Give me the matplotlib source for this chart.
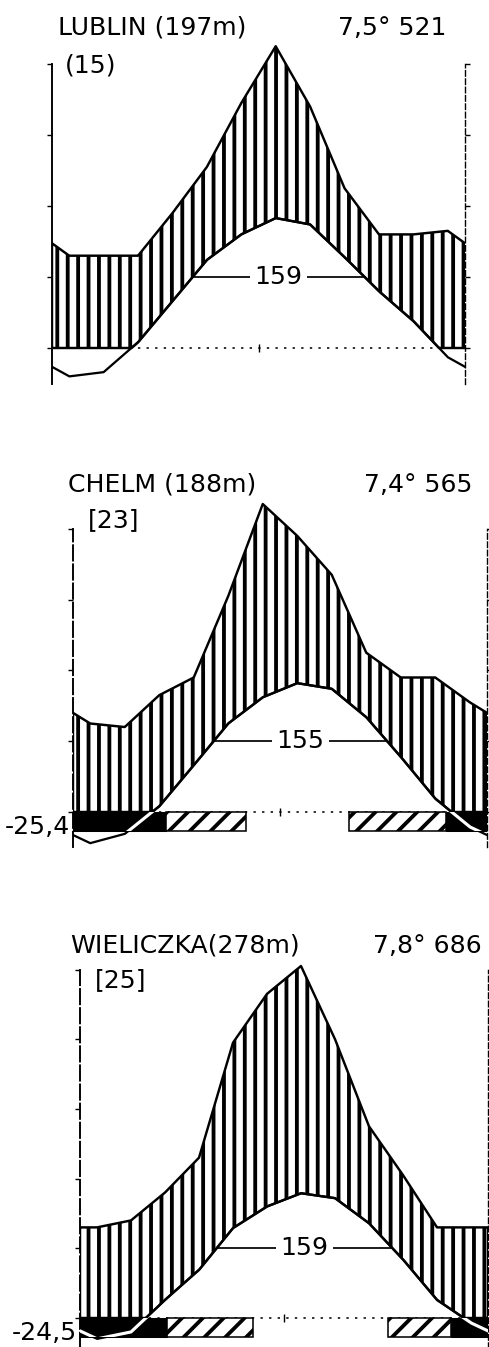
import numpy as np
import matplotlib
matplotlib.use("Agg")
import matplotlib.pyplot as plt
from matplotlib.patches import Rectangle

# ---------------- data ----------------
month_pos = np.arange(12) + 0.5

lub_name = "LUBLIN (197m)"
lub_years = "(15)"
lub_summary = "7,5° 521"
lub_temp = [-4.0, -3.4, 0.8, 6.6, 12.4, 16.0, 18.3, 17.4, 12.8, 8.0, 3.8, -1.3]
lub_prec = [26, 26, 26, 38, 51, 69, 85, 68, 45, 32, 32, 33]
lub_days = "159"
lub_absmin = None
lub_cold = []
lub_frost = []

che_name = "CHELM (188m)"
che_years = "[23]"
che_summary = "7,4° 565"
che_temp = [-4.4, -3.1, 0.8, 6.6, 12.5, 16.2, 18.2, 17.4, 13.4, 7.8, 1.9, -2.1]
che_prec = [25, 24, 33, 38, 61, 87, 78, 67, 45, 38, 38, 31]
che_days = "155"
che_absmin = "-25,4"
che_cold = [(0.0, 2.7), (10.8, 12.0)]
che_frost = [(2.7, 5.0), (8.0, 10.8)]

wie_name = "WIELICZKA(278m)"
wie_years = "[25]"
wie_summary = "7,8° 686"
wie_temp = [-3.0, -2.0, 2.6, 6.9, 12.9, 16.0, 17.9, 17.2, 13.6, 8.4, 2.6, -0.7]
wie_prec = [26, 28, 36, 46, 79, 93, 101, 80, 55, 41, 26, 26]
wie_days = "159"
wie_absmin = "-24,5"
wie_cold = [(0.0, 2.55), (10.9, 12.0)]
wie_frost = [(2.55, 5.1), (9.05, 10.9)]

# ---------------- figure ----------------
W, H, DPI = 489, 1347, 125
plt.rcParams["hatch.linewidth"] = 2.2
plt.rcParams["font.family"] = ["DejaVu Sans"]
fig = plt.figure(figsize=(W / DPI, H / DPI), dpi=DPI)
fig.patch.set_facecolor("white")

TITLE_SIZE = 14.5


def px_text(x, y, s, ha="left", size=TITLE_SIZE):
    fig.text(x / W, 1 - y / H, s, ha=ha, va="baseline", fontsize=size, color="black")


def cyc(vals):
    vals = np.asarray(vals, float)
    edge = (vals[0] + vals[-1]) / 2
    xs = np.concatenate([[0], month_pos, [12]])
    ys = np.concatenate([[edge], vals, [edge]])
    return xs, ys


def panel(geom, temp, prec, days, absmin, cold, frost, top_tick, left_style):
    x0, x1, y0, s, ymin, ymax = geom
    bottom_px = y0 - ymin * s
    top_px = y0 - ymax * s
    ax = fig.add_axes([x0 / W, 1 - bottom_px / H, (x1 - x0) / W, (bottom_px - top_px) / H])
    ax.set_xlim(0, 12)
    ax.set_ylim(ymin, ymax)
    ax.patch.set_visible(False)

    xd = np.linspace(0, 12, 2401)
    tx, ty = cyc(temp)
    px_, py_ = cyc(prec)
    T2 = 2 * np.interp(xd, tx, ty)
    P = np.interp(xd, px_, py_)

    # dotted zero line
    ax.plot([0, 12], [0, 0], color="black", lw=0.9, ls=(0, (1.5, 4)))

    # hatched humid area
    ax.fill_between(xd, np.maximum(T2, 0), P, facecolor="white", edgecolor="black",
                    hatch="||", linewidth=1.4, zorder=2)

    # frost bars
    cold_patches = []
    for a, b in cold:
        r = Rectangle((a, -5.5), b - a, 5.5, facecolor="black", edgecolor="black", lw=0.6, zorder=3)
        ax.add_patch(r)
        cold_patches.append(r)
    for a, b in frost:
        r = Rectangle((a, -5.5), b - a, 5.5, facecolor="white", edgecolor="black",
                      hatch="//", lw=0.9, zorder=3)
        ax.add_patch(r)

    # temperature line
    ax.plot(xd, T2, color="black", lw=1.3, zorder=4)
    for r in cold_patches:
        ln, = ax.plot(xd, T2, color="white", lw=1.8, zorder=5)
        ln.set_clip_path(r)

    # 10 degree line with frost-free days
    above = xd[T2 >= 20]
    xa, xb = above.min(), above.max()
    ax.plot([xa, xb], [20, 20], color="black", lw=1.0, zorder=4)
    ax.text((xa + xb) / 2, 20, days, ha="center", va="center", fontsize=TITLE_SIZE, zorder=6,
            bbox=dict(facecolor="white", edgecolor="none", pad=2.5))

    if absmin:
        ax.text(-0.08, -4.2, absmin, ha="right", va="center", fontsize=TITLE_SIZE, clip_on=False)

    # axes
    for side in ["top", "bottom"]:
        ax.spines[side].set_visible(False)
    ax.spines["left"].set_bounds(-10, top_tick)
    ax.spines["right"].set_bounds(-10, top_tick)
    ax.spines["left"].set_linewidth(1.1)
    ax.spines["left"].set_linestyle(left_style)
    ax.spines["right"].set_linewidth(0.8)
    ax.spines["right"].set_linestyle((0, (4, 2)))
    ax.set_yticks(np.arange(0, top_tick + 1, 20))
    ax.yaxis.set_ticks_position("both")
    ax.tick_params(axis="y", direction="out", length=3, width=0.8,
                   labelleft=False, labelright=False)
    ax.set_xticks([6])
    ax.spines["bottom"].set_position(("data", 0))
    ax.tick_params(axis="x", direction="inout", length=5, width=0.8, labelbottom=False)
    return ax


# Lublin
panel((52, 465, 348, 3.55, -10, 95), lub_temp, lub_prec, lub_days, lub_absmin,
      lub_cold, lub_frost, 80, "solid")
px_text(58, 35, lub_name)
px_text(65, 72, lub_years)
px_text(447, 35, lub_summary, ha="right")

# Chelm
panel((73, 487, 812, 3.54, -10, 95), che_temp, che_prec, che_days, che_absmin,
      che_cold, che_frost, 80, (0, (8, 2)))
px_text(68, 492, che_name)
px_text(88, 527, che_years)
px_text(473, 492, che_summary, ha="right")

# Wieliczka
panel((80, 488, 1318, 3.485, -10, 105), wie_temp, wie_prec, wie_days, wie_absmin,
      wie_cold, wie_frost, 100, (0, (8, 2)))
px_text(70, 953, wie_name)
px_text(95, 987, wie_years)
px_text(482, 953, wie_summary, ha="right")

fig.savefig("out.png", dpi=DPI, facecolor="white")
